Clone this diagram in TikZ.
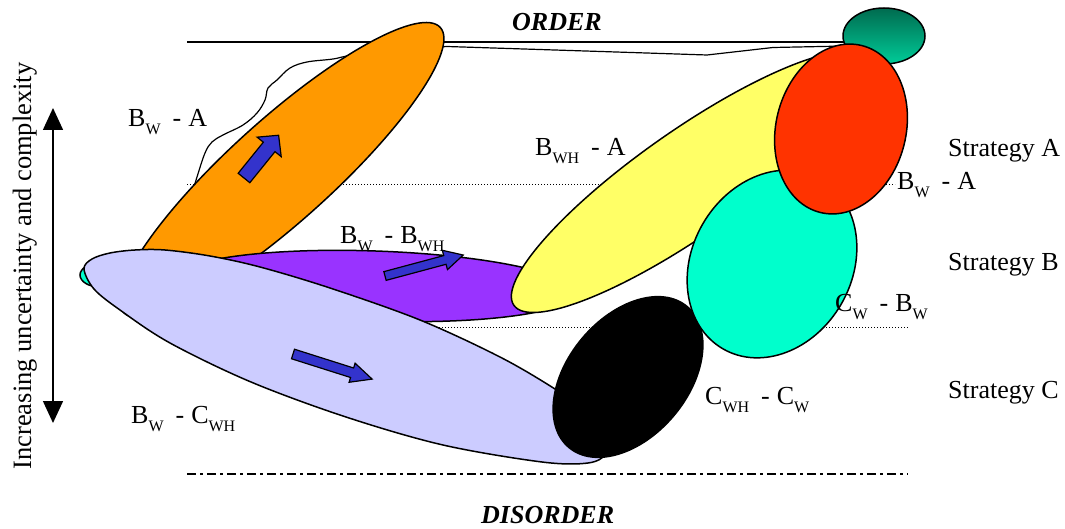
\documentclass[tikz,border=0pt]{standalone}
\usepackage{fontspec}
\setmainfont{Liberation Serif}
\usetikzlibrary{arrows.meta}
\definecolor{orng}{HTML}{FF9900}
\definecolor{purp}{HTML}{9933FF}
\definecolor{lav}{HTML}{CCCCFF}
\definecolor{yel}{HTML}{FFFF66}
\definecolor{aqua}{HTML}{00FFCC}
\definecolor{redo}{HTML}{FF3300}
\definecolor{blu}{HTML}{3333CC}
\definecolor{grdark}{HTML}{006B4F}
\definecolor{grlight}{HTML}{00CC99}
\newcommand\lsub[1]{\raisebox{-8pt}{\fontsize{16}{16}\selectfont #1}}
\newcommand\lblsep{\hspace{12pt}-\hspace{7pt}}
\begin{document}
\begin{tikzpicture}[x=1pt,y=-1pt,
  shp/.style={draw=black,line width=1.5pt},
  lbl/.style={anchor=base west,inner sep=0pt,font=\fontsize{26}{30}\selectfont},
  blockarr/.style={draw=black,line width=1.2pt,fill=blu,line join=miter},
  dotline/.style={line width=1pt,dash pattern=on 1pt off 2pt},
  dashdotline/.style={line width=2pt,dash pattern=on 9pt off 4pt on 3pt off 4pt},
  ttl/.style={anchor=base west,inner sep=0pt,font=\bfseries\itshape\fontsize{26}{30}\selectfont},
]
\useasboundingbox (0,0) rectangle (1065,529);
% reference lines
\coordinate (d1a) at (187,185); \coordinate (d1b) at (895,185);
\coordinate (d2a) at (187,327); \coordinate (d2b) at (908,327);
\coordinate (dda) at (187,474); \coordinate (ddb) at (908,474);
\coordinate (ta) at (187,42); \coordinate (tb) at (846,42);
\draw[dotline] (d1a) -- (d1b);
\draw[dotline] (d2a) -- (d2b);
\draw[dashdotline] (dda) -- (ddb);
\draw[line width=1.5pt] (ta) -- (tb);
\draw[line width=1.2pt,line join=round] plot[smooth,tension=0.6] coordinates {(190,200) (197,177) (205,153) (212,142) (223,135) (243,125) (257,113) (265,100) (268,88) (277,80) (290,68) (307,62) (333,59) (353,55) (400,50) (447,46.5)} -- (607,51.7) -- (707,55) -- (773,47.5) -- (846,46);
% shapes
\draw[shp,fill=aqua] (100,275) ellipse [x radius=20pt,y radius=12pt];
\draw[shp,fill=orng,rotate around={42:(282,170)}] (282,170) ellipse [x radius=213pt,y radius=51pt];
\draw[shp,fill=purp,rotate around={-2:(375,286)}] (375,286) ellipse [x radius=200pt,y radius=35pt];
\draw[shp,fill=lav] plot[smooth cycle,tension=0.55] coordinates {(84,269) (92,259) (110,253) (135,250) (165,250) (210,256) (260,267) (330,288) (420,320) (500,357) (555,389) (590,414) (610,436) (606,454) (588,463) (542,462) (443,445) (346,417) (251,382) (170,343) (120,310) (94,289)};
\draw[shp,fill=yel,rotate around={35:(690,182)}] (690,182) ellipse [x radius=215pt,y radius=52pt];
\draw[shp,fill=black,rotate around={-40:(628,377)}] (628,377) ellipse [x radius=60pt,y radius=92pt];
\draw[shp,top color=grdark,bottom color=grlight] (884,36) ellipse [x radius=41pt,y radius=28pt];
\draw[shp,fill=aqua,rotate around={-30:(772,264)}] (772,264) ellipse [x radius=80pt,y radius=98pt];
\draw[shp,fill=redo,rotate around={-14:(841,129)}] (841,129) ellipse [x radius=65pt,y radius=86pt];
% block arrows
\draw[blockarr,shift={(244,178)},rotate=51] (0,-7.5) -- (40,-7.5) -- (40,-15.5) -- (55,0) -- (40,15.5) -- (40,7.5) -- (0,7.5) -- cycle;
\draw[blockarr,shift={(385,276)},rotate=15] (0,-4.5) -- (62,-4.5) -- (62,-10) -- (81,0) -- (62,10) -- (62,4.5) -- (0,4.5) -- cycle;
\draw[blockarr,shift={(293,354)},rotate=-17.6] (0,-5) -- (62,-5) -- (62,-10) -- (83,0) -- (62,10) -- (62,5) -- (0,5) -- cycle;
% vertical double arrow
\coordinate (va) at (53,108); \coordinate (vb) at (53,423);
\draw[line width=1.5pt,{Triangle[length=22pt,width=20pt]}-{Triangle[length=22pt,width=20pt]}] (va) -- (vb);
% labels
\node[lbl] (lba1) at (128,127) {B\lsub{W}\lblsep A};
\node[lbl] (lbwha) at (535,156) {B\lsub{WH}\lblsep A};
\node[lbl] (lsa) at (948,157) {Strategy A};
\node[lbl] (lba2) at (897,190) {B\lsub{W}\lblsep A};
\node[lbl] (lbwbwh) at (340,244) {B\lsub{W}\lblsep B\lsub{WH}};
\node[lbl] (lsb) at (948,270) {Strategy B};
\node[lbl] (lcwbw) at (835,312) {C\lsub{W}\lblsep B\lsub{W}};
\node[lbl] (lcwhcw) at (705,404) {C\lsub{WH}\lblsep C\lsub{W}};
\node[lbl] (lsc) at (948,398) {Strategy C};
\node[lbl] (lbwcwh) at (131,423) {B\lsub{W}\lblsep C\lsub{WH}};
\node[ttl] (lord) at (512,30.5) {ORDER};
\node[ttl] (ldis) at (481,523) {DISORDER};
\node[rotate=90,anchor=base,inner sep=0pt,font=\fontsize{26.5}{30}\selectfont] (lvert) at (31,266) {Increasing uncertainty and complexity};
\end{tikzpicture}
\end{document}
